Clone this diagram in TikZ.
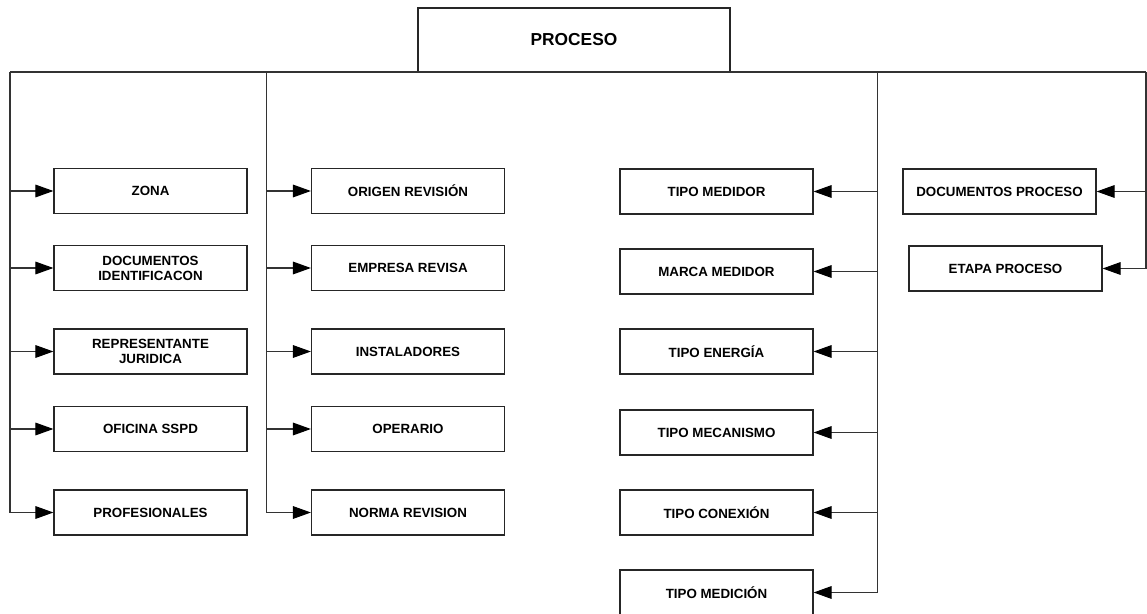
\documentclass[tikz,border=0pt]{standalone}
\usepackage{fontspec}
\setmainfont{Liberation Sans}
\usetikzlibrary{arrows.meta}

\tikzset{
  tabla/.style={draw=black!85, line width=0.9pt, minimum width=144.75pt, minimum height=33.75pt,
    inner sep=0pt, align=center, font=\bfseries\fontsize{10}{11.25}\selectfont},
  linea/.style={draw=black!80, line width=0.8pt},
  flecha/.style={linea, -{Triangle[length=13.5pt,width=9.5pt,fill=black,color=black]}}
}

\begin{document}
\begin{tikzpicture}[x=0.75pt, y=-0.75pt]
  \useasboundingbox (0,0) rectangle (1147,614);

  % raiz
  \node[tabla, minimum width=234pt, minimum height=48pt, font=\bfseries\fontsize{13}{15}\selectfont]
    (proceso) at (574,40) {PROCESO};

  % columna 1
  \node[tabla] (zona) at (150.5,191) {ZONA};
  \node[tabla] (docid) at (150.5,268) {DOCUMENTOS\\IDENTIFICACON};
  \node[tabla] (repr) at (150.5,351.5) {REPRESENTANTE\\JURIDICA};
  \node[tabla] (oficina) at (150.5,429) {OFICINA SSPD};
  \node[tabla] (prof) at (150.5,512.5) {PROFESIONALES};

  % columna 2
  \node[tabla] (origen) at (408,191) {ORIGEN REVISIÓN};
  \node[tabla] (empresa) at (408,268) {EMPRESA REVISA};
  \node[tabla] (instal) at (408,351.5) {INSTALADORES};
  \node[tabla] (operario) at (408,429) {OPERARIO};
  \node[tabla] (norma) at (408,512.5) {NORMA REVISION};

  % columna 3
  \node[tabla] (tmedidor) at (716.5,191.5) {TIPO MEDIDOR};
  \node[tabla] (marca) at (716.5,271.5) {MARCA MEDIDOR};
  \node[tabla] (energia) at (716.5,351.5) {TIPO ENERGÍA};
  \node[tabla] (mecanismo) at (716.5,432.5) {TIPO MECANISMO};
  \node[tabla] (conexion) at (716.5,512.5) {TIPO CONEXIÓN};
  \node[tabla] (medicion) at (716.5,592.5) {TIPO MEDICIÓN};

  % columna 4
  \node[tabla] (docproc) at (999.5,191.5) {DOCUMENTOS PROCESO};
  \node[tabla] (etapa) at (1005.5,268.5) {ETAPA PROCESO};

  % barras
  \coordinate (busA) at (10,72);
  \coordinate (busB) at (266.5,72);
  \coordinate (busC) at (877.5,72);
  \coordinate (busD) at (1146,72);

  \draw[linea] (busA) -- (busD);
  \draw[linea] (busA) -- (busA |- prof);
  \draw[linea] (busB) -- (busB |- norma);
  \draw[linea] (busC) -- (busC |- medicion);
  \draw[linea] (busD) -- (busD |- etapa);

  \foreach \n in {zona, docid, repr, oficina, prof}
    \draw[flecha] (busA |- \n) -- (\n);
  \foreach \n in {origen, empresa, instal, operario, norma}
    \draw[flecha] (busB |- \n) -- (\n);
  \foreach \n in {tmedidor, marca, energia, mecanismo, conexion, medicion}
    \draw[flecha] (busC |- \n) -- (\n);
  \foreach \n in {docproc, etapa}
    \draw[flecha] (busD |- \n) -- (\n);
\end{tikzpicture}
\end{document}
